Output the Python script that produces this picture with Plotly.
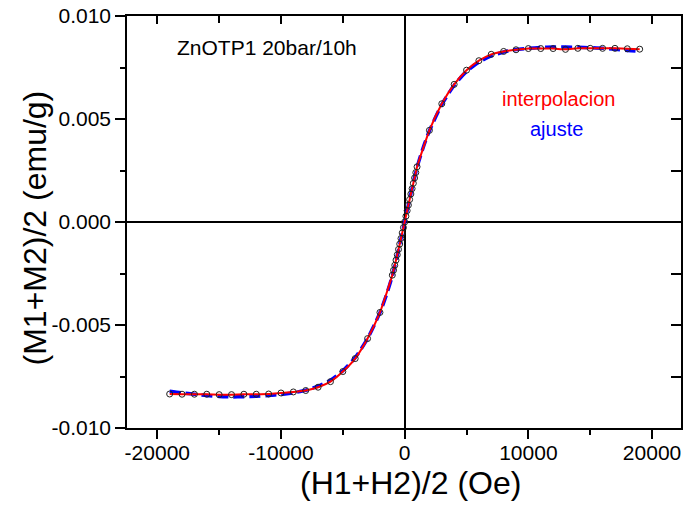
import plotly.graph_objects as go

# ---- data ----
H_data = [-19000, -18000, -17000, -16000, -15000, -14000, -13000, -12000, -11000, -10000,
          -9000, -8000, -7000, -6000, -5000, -4000, -3000, -2000,
          -1000, -900, -800, -700, -600, -500, -400, -300, -200, -100, 0,
          100, 200, 300, 400, 500, 600, 700, 800, 900, 1000,
          2000, 3000, 4000, 5000, 6000, 7000, 8000, 9000, 10000,
          11000, 12000, 13000, 14000, 15000, 16000, 17000, 18000, 19000]
M_data = [-0.00835, -0.00836, -0.00836, -0.00836, -0.00838, -0.00838, -0.00836, -0.00836, -0.00835, -0.00830,
          -0.00825, -0.00818, -0.00802, -0.00775, -0.00726, -0.00663, -0.00566, -0.00439,
          -0.00258, -0.00234, -0.00210, -0.00185, -0.00159, -0.00133, -0.00107, -0.00080, -0.00053, -0.00027, 0.00000,
          0.00028, 0.00055, 0.00082, 0.00109, 0.00136, 0.00162, 0.00188, 0.00214, 0.00240, 0.00268,
          0.00445, 0.00574, 0.00668, 0.00737, 0.00783, 0.00814, 0.00828, 0.00836, 0.00842,
          0.00842, 0.00842, 0.00838, 0.00843, 0.00843, 0.00843, 0.00843, 0.00841, 0.00839]

H_fit = [-19000, -18000, -17000, -16000, -15000, -14000, -13000, -12000, -11000, -10000,
         -9000, -8000, -7000, -6000, -5000, -4000, -3000, -2000, -1500, -1000, -500, 0,
         500, 1000, 1500, 2000, 3000, 4000, 5000, 6000, 7000, 8000, 9000, 10000,
         11000, 12000, 13000, 14000, 15000, 16000, 17000, 18000, 19000]
M_fit = [-0.00822, -0.00830, -0.00836, -0.00842, -0.00847, -0.00849, -0.00848, -0.00846, -0.00842, -0.00837,
         -0.00829, -0.00817, -0.00797, -0.00768, -0.00722, -0.00658, -0.00566, -0.00440, -0.00358, -0.00262, -0.00135, 0.00000,
         0.00137, 0.00265, 0.00362, 0.00443, 0.00570, 0.00664, 0.00731, 0.00776, 0.00806, 0.00825, 0.00837, 0.00843,
         0.00847, 0.00849, 0.00849, 0.00848, 0.00846, 0.00843, 0.00838, 0.00833, 0.00829]

x_tick_vals = [-20000, -10000, 0, 10000, 20000]
x_tick_text = ["-20000", "-10000", "0", "10000", "20000"]
y_tick_vals = [-0.010, -0.005, 0.0, 0.005, 0.010]
y_tick_text = ["-0.010", "-0.005", "0.000", "0.005", "0.010"]

FONT = "Arial, 'Liberation Sans', sans-serif"
XR = [-22450, 22340]
YR = [-0.010, 0.010]

fig = go.Figure()
fig.add_trace(go.Scatter(x=H_fit, y=M_fit, mode="lines", name="ajuste",
                         line=dict(color="#0000ff", width=3.5, dash="11px,5px", shape="spline", smoothing=0.6),
                         showlegend=False, hoverinfo="skip"))
fig.add_trace(go.Scatter(x=H_data, y=M_data, mode="lines", name="interpolacion",
                         line=dict(color="#ff0000", width=2, shape="spline", smoothing=0.5),
                         showlegend=False, hoverinfo="skip"))
fig.add_trace(go.Scatter(x=H_data, y=M_data, mode="markers", name="data",
                         marker=dict(symbol="circle-open", size=6, color="#222222", line=dict(width=1)),
                         showlegend=False, hoverinfo="skip"))
# helper trace so the mirrored (inside-tick) axes are drawn
fig.add_trace(go.Scatter(x=[0], y=[0], xaxis="x2", yaxis="y2", mode="markers",
                         marker=dict(opacity=0), showlegend=False, hoverinfo="skip"))

fig.update_layout(
    template="none",
    width=684, height=508,
    margin=dict(l=127, r=3, t=16, b=80),
    paper_bgcolor="white", plot_bgcolor="white",
    font=dict(family=FONT, color="black"),
    xaxis=dict(range=XR, tickvals=x_tick_vals, ticktext=x_tick_text, automargin=False,
               ticks="outside", ticklen=9, tickwidth=1.5, tickcolor="black",
               ticklabeloverflow="allow", ticklabelstandoff=-4,
               minor=dict(dtick=5000, tick0=0, ticks="outside", ticklen=5, tickwidth=1.5, tickcolor="black"),
               showline=True, linecolor="black", linewidth=1.5, mirror=True,
               showgrid=False, zeroline=True, zerolinecolor="black", zerolinewidth=2,
               tickfont=dict(size=21, family=FONT)),
    yaxis=dict(range=YR, tickvals=y_tick_vals, ticktext=y_tick_text, automargin=False,
               ticks="outside", ticklen=10, tickwidth=1.5, tickcolor="black",
               ticklabeloverflow="allow",
               minor=dict(dtick=0.0025, tick0=0, ticks="outside", ticklen=5, tickwidth=1.5, tickcolor="black"),
               showline=True, linecolor="black", linewidth=1.5, mirror=True,
               showgrid=False, zeroline=True, zerolinecolor="black", zerolinewidth=2,
               tickfont=dict(size=21, family=FONT)),
    xaxis2=dict(overlaying="x", side="top", range=XR, tickvals=x_tick_vals, automargin=False,
                ticks="inside", ticklen=8, tickwidth=1.5, tickcolor="black",
                minor=dict(dtick=5000, tick0=0, ticks="inside", ticklen=7, tickwidth=1.5, tickcolor="black"),
                showticklabels=False, showgrid=False, zeroline=False, showline=False),
    yaxis2=dict(overlaying="y", side="right", range=YR, tickvals=y_tick_vals, automargin=False,
                ticks="inside", ticklen=10, tickwidth=1.5, tickcolor="black",
                minor=dict(dtick=0.0025, tick0=0, ticks="inside", ticklen=10, tickwidth=1.5, tickcolor="black"),
                showticklabels=False, showgrid=False, zeroline=False, showline=False),
    annotations=[
        dict(text="(H1+H2)/2 (Oe)", xref="paper", yref="paper", x=0.5126, y=-0.133,
             xanchor="center", yanchor="middle", showarrow=False, font=dict(size=32, family=FONT, color="black")),
        dict(text="(M1+M2)/2 (emu/g)", xref="paper", yref="paper", x=-0.1643, y=0.4867, textangle=-90,
             xanchor="center", yanchor="middle", showarrow=False, font=dict(size=32, family=FONT, color="black")),
        dict(text="ZnOTP1 20bar/10h", xref="paper", yref="paper", x=0.0866, y=0.923,
             xanchor="left", yanchor="middle", showarrow=False, font=dict(size=21, family=FONT, color="black")),
        dict(text="interpolacion", xref="paper", yref="paper", x=0.778, y=0.7985,
             xanchor="center", yanchor="middle", showarrow=False, font=dict(size=20, family=FONT, color="#ff0000")),
        dict(text="ajuste", xref="paper", yref="paper", x=0.776, y=0.7257,
             xanchor="center", yanchor="middle", showarrow=False, font=dict(size=20, family=FONT, color="#0000ff")),
    ],
)

# remove the browser's default 8 px body margin so the 684x508 figure fills the window
fig.write_html("out.html", config={"displayModeBar": False},
               post_script="document.body.style.margin='0';")
